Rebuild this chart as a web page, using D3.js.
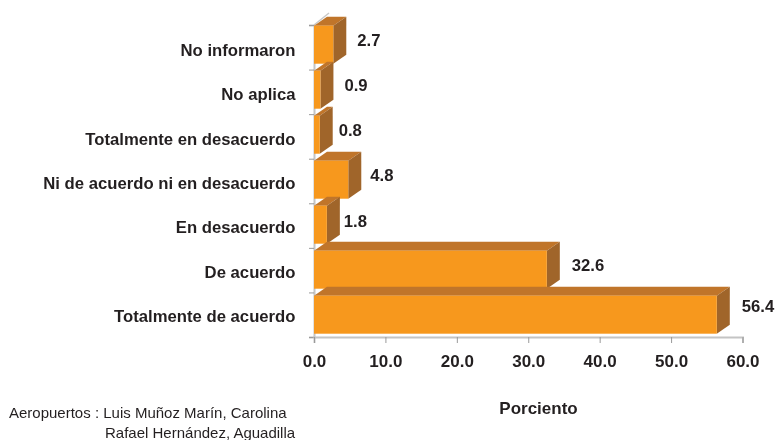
<!DOCTYPE html>
<html>
<head>
<meta charset="utf-8">
<script src="https://cdn.jsdelivr.net/npm/d3@7"></script>
<style>
  html, body { margin: 0; padding: 0; background: #fff; }
  text { font-family: "Liberation Sans", Arial, sans-serif; fill: #231f20; }
  .lab { font-weight: bold; font-size: 16.7px; }
  svg { filter: blur(0.35px); }
</style>
</head>
<body>
<script>
// values, top bar first
const categories = ["No informaron", "No aplica", "Totalmente en desacuerdo",
  "Ni de acuerdo ni en desacuerdo", "En desacuerdo", "De acuerdo", "Totalmente de acuerdo"];
const values = [2.7, 0.9, 0.8, 4.8, 1.8, 32.6, 56.4];
const xTickValues = [0, 10, 20, 30, 40, 50, 60];
const footnote = ["Aeropuertos : Luis Muñoz Marín, Carolina", "Rafael Hernández, Aguadilla"];
// hand placed labels in the original, small offsets from the bar end
const labelNudgeX = [1, 1, -4, -1, -6, 2, 2];
const labelNudgeY = [0, 0, 0, 0, 1, 0, -4];

const width = 780, height = 440;
const depthX = 13, depthY = 9, barH = 38;
const axisY = 337, axisTop = 25;

const svg = d3.select("body").append("svg")
  .attr("width", width).attr("height", height)
  .style("display", "block");

const x = d3.scaleLinear().domain([0, 60]).range([314, 742.5]);
const yBar = d3.scalePoint().domain(categories).range([25.7, 295.7]);
const yTick = d3.scaleLinear().domain([0, 7]).range([axisY, axisTop]);
const yLabel = d3.scalePoint().domain(categories).range([50, 316]);

// wall + axes
svg.append("path")
  .attr("d", `M${x(0)},${axisTop}L${x(0) + 15},${axisTop - 12}`)
  .attr("stroke", "#c8c8c8").attr("stroke-width", 1.5).attr("fill", "none");

const gy = svg.append("g").attr("transform", `translate(${x(0)},0)`)
  .call(d3.axisLeft(yTick).ticks(7).tickSize(5).tickFormat(""));
gy.select(".domain").attr("stroke", "#c4c4c4").attr("stroke-width", 2);
gy.selectAll(".tick line").attr("stroke", "#9a9a9a");

const gx = svg.append("g").attr("transform", `translate(0,${axisY})`)
  .call(d3.axisBottom(x).tickValues(xTickValues).tickSize(6).tickPadding(12).tickFormat(d3.format(".1f")));
gx.select(".domain").attr("stroke", "#c4c4c4").attr("stroke-width", 2);
gx.selectAll(".tick line").attr("stroke", "#9a9a9a");
gx.selectAll(".tick text").attr("class", "lab").style("font-size", "17px").attr("fill", "#231f20");

// 3d bars
const bars = svg.append("g").selectAll("g").data(categories).enter().append("g");

bars.append("path") // top
  .attr("fill", "#c0752a")
  .attr("d", (d, i) => {
    const x0 = x(0), x1 = x(values[i]), y0 = yBar(d);
    return `M${x0},${y0}L${x0 + depthX},${y0 - depthY}L${x1 + depthX},${y0 - depthY}L${x1},${y0}Z`;
  });

bars.append("path") // side
  .attr("fill", "#a0652a")
  .attr("d", (d, i) => {
    const x1 = x(values[i]), y0 = yBar(d);
    return `M${x1},${y0}L${x1 + depthX},${y0 - depthY}L${x1 + depthX},${y0 + barH - depthY}L${x1},${y0 + barH}Z`;
  });

bars.append("rect") // front
  .attr("fill", "#f7981d")
  .attr("x", x(0))
  .attr("y", d => yBar(d))
  .attr("width", (d, i) => x(values[i]) - x(0))
  .attr("height", barH);

// category labels
svg.append("g").selectAll("text").data(categories).enter().append("text")
  .attr("class", "lab")
  .attr("x", 295.5).attr("y", d => yLabel(d))
  .attr("dy", "0.35em").attr("text-anchor", "end")
  .text(d => d);

// value labels
svg.append("g").selectAll("text").data(values).enter().append("text")
  .attr("class", "lab")
  .attr("x", (d, i) => x(d) + depthX + 10 + labelNudgeX[i])
  .attr("y", (d, i) => yBar(categories[i]) + 14 + labelNudgeY[i])
  .attr("dy", "0.35em")
  .text(d => d.toFixed(1));

// axis title and footnote
svg.append("text").attr("class", "lab")
  .attr("x", 538.5).attr("y", 408).attr("dy", "0.35em").attr("text-anchor", "middle")
  .style("font-size", "17px").text("Porciento");

svg.append("text").attr("x", 9).attr("y", 418).style("font-size", "15px").text(footnote[0]);
svg.append("text").attr("x", 105).attr("y", 438).style("font-size", "15px").text(footnote[1]);
</script>
</body>
</html>
